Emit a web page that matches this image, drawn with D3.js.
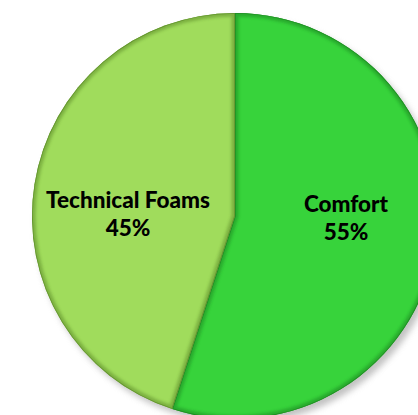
<!DOCTYPE html>
<html><head><meta charset="utf-8">
<script src="https://cdn.jsdelivr.net/npm/d3@7"></script>
<style>html,body{margin:0;padding:0;background:#fff;}svg{display:block;}</style>
</head><body>
<script>
const categories = ["Comfort", "Technical Foams"];
const values = [55, 45];
const labels = ["55%", "45%"];
const colors = ["#37D33B", "#A0DC5C"];
const edgeColors = ["#1E8A22", "#5E8E2C"];

const W = 418, H = 415, cx = 235, cy = 216, R = 203;
const svg = d3.select("body").append("svg").attr("width", W).attr("height", H);
const defs = svg.append("defs");
const sh = defs.append("filter").attr("id", "shadow").attr("x", "-20%").attr("y", "-20%").attr("width", "140%").attr("height", "140%");
sh.append("feGaussianBlur").attr("stdDeviation", 3);
const bl = defs.append("filter").attr("id", "blur").attr("x", "-20%").attr("y", "-20%").attr("width", "140%").attr("height", "140%");
bl.append("feGaussianBlur").attr("stdDeviation", 1.6);

const pie = d3.pie().sort(null).value(d => d)(values);
const arc = d3.arc().innerRadius(0).outerRadius(R);
const g = svg.append("g").attr("transform", `translate(${cx},${cy})`);

// shadow
g.append("circle").attr("cx", 4).attr("cy", 5).attr("r", R).attr("fill", "#9a9a9a").attr("opacity", 0.6).attr("filter", "url(#shadow)");

pie.forEach((p, i) => {
  const id = "clip" + i;
  defs.append("clipPath").attr("id", id).append("path").attr("d", arc(p)).attr("transform", `translate(${cx},${cy})`);
  g.append("path").attr("d", arc(p)).attr("fill", colors[i]);
  const cg = svg.append("g").attr("clip-path", `url(#${id})`).append("g").attr("transform", `translate(${cx},${cy})`);
  cg.append("path").attr("d", arc(p)).attr("fill", "none").attr("stroke", edgeColors[i]).attr("stroke-width", 7).attr("opacity", 0.55).attr("filter", "url(#blur)");
  cg.append("path").attr("d", arc(p)).attr("fill", "none").attr("stroke", edgeColors[i]).attr("stroke-width", 1.6).attr("opacity", 0.85);
});

// labels
const labelPos = [[346, 212], [128, 208]];
pie.forEach((p, i) => {
  const t = g.append("text").attr("text-anchor", "middle")
    .attr("font-family", "Lato, 'Open Sans', sans-serif").attr("font-weight", "900")
    .attr("font-size", 22.5).attr("fill", "#000");
  t.append("tspan").attr("x", labelPos[i][0] - cx).attr("y", labelPos[i][1] - cy).text(categories[i]);
  t.append("tspan").attr("x", labelPos[i][0] - cx).attr("y", labelPos[i][1] - cy + 28).text(labels[i]);
});
</script>
</body></html>
